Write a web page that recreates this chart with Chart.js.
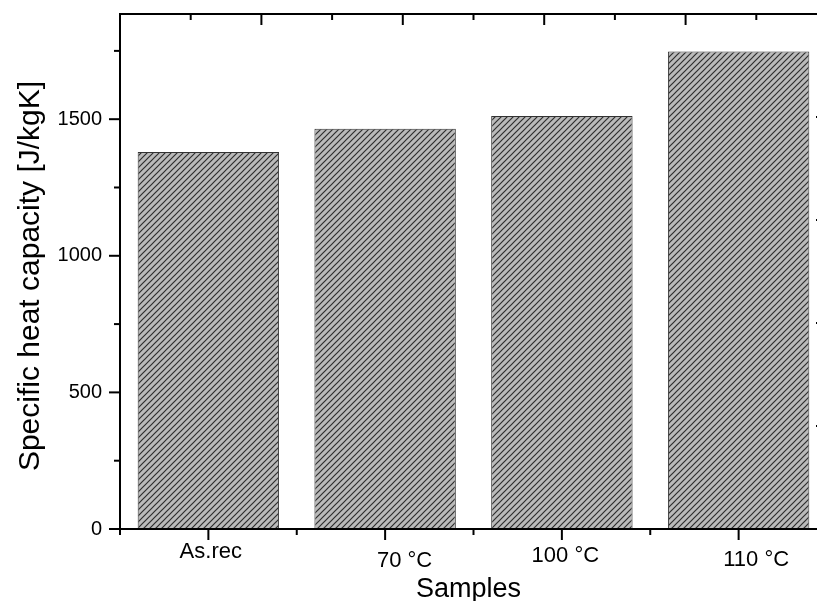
<!DOCTYPE html>
<html>
<head>
<meta charset="utf-8">
<script src="https://cdn.jsdelivr.net/npm/chart.js@4/dist/chart.umd.min.js"></script>
<style>
  html, body { margin: 0; padding: 0; background: #fff; overflow: hidden; }
  #wrap { position: absolute; left: 0; top: 0; width: 830px; height: 601px; }
</style>
</head>
<body>
<div id="wrap"><canvas id="c"></canvas></div>
<script>
// ---- data ----
const categories = ['As.rec', '70 °C', '100 °C', '110 °C'];
const capacity = [1380, 1465, 1512, 1748];
const yTickValues = [0, 500, 1000, 1500];
const yMinorStep = 250;
const yMax = 1885;
const xTitle = 'Samples';
const yTitle = 'Specific heat capacity [J/kgK]';

// ---- hatch pattern ----
function makeHatch() {
  const s = 6;
  const c = document.createElement('canvas');
  c.width = s; c.height = s;
  const g = c.getContext('2d');
  g.fillStyle = '#bababa';
  g.fillRect(0, 0, s, s);
  g.strokeStyle = '#2e2e2e';
  g.lineWidth = 1.2;
  g.beginPath();
  g.moveTo(-1, s + 1); g.lineTo(s + 1, -1);
  g.moveTo(-1, 1); g.lineTo(1, -1);
  g.moveTo(s - 1, s + 1); g.lineTo(s + 1, s - 1);
  g.stroke();
  return g.createPattern(c, 'repeat');
}

const FONT = '"Liberation Sans", Arial, sans-serif';
const labelShift = [[2.4, 29.3], [19.4, 37.7], [3.5, 33], [17.5, 36.7]];

const framePlugin = {
  id: 'frame',
  afterDraw(chart) {
    const { ctx, chartArea: a, scales: { x, y } } = chart;
    ctx.save();
    ctx.strokeStyle = '#000';
    ctx.fillStyle = '#000';
    ctx.lineWidth = 2;
    const line = (x1, y1, x2, y2) => { ctx.beginPath(); ctx.moveTo(x1, y1); ctx.lineTo(x2, y2); ctx.stroke(); };
    // frame
    ctx.strokeRect(a.left, a.top, a.right - a.left, a.bottom - a.top);
    // y ticks
    for (let v = 0; v <= yMax; v += yMinorStep) {
      const py = y.getPixelForValue(v);
      const major = yTickValues.includes(v);
      line(a.left - (major ? 11 : 6), py, a.left, py);
    }
    ctx.font = '20px ' + FONT;
    ctx.textAlign = 'right';
    ctx.textBaseline = 'middle';
    yTickValues.forEach(v => ctx.fillText(String(v), a.left - 18, y.getPixelForValue(v)));
    // x ticks
    const centers = categories.map((c, i) => x.getPixelForValue(i));
    centers.forEach(px => line(px, a.bottom, px, a.bottom + 11));
    const bounds = [a.left];
    for (let i = 1; i < centers.length; i++) bounds.push((centers[i - 1] + centers[i]) / 2);
    bounds.push(a.right);
    bounds.forEach(px => line(px, a.bottom, px, a.bottom + 6));
    // top ticks (inward)
    for (let k = 1; k < 10; k++) {
      const px = a.left + k * (a.right - a.left) / 10;
      line(px, a.top, px, a.top + (k % 2 === 0 ? 11 : 6));
    }
    // right ticks (inward)
    for (let k = 1; k < 10; k++) {
      const py = a.top + k * (a.bottom - a.top) / 10;
      line(a.right - (k % 2 === 0 ? 11 : 6), py, a.right, py);
    }
    // x labels
    ctx.font = '22px ' + FONT;
    ctx.textAlign = 'center';
    ctx.textBaseline = 'alphabetic';
    categories.forEach((c, i) => {
      ctx.fillText(c, centers[i] + labelShift[i][0], a.bottom + labelShift[i][1]);
    });
    // titles
    ctx.font = '27px ' + FONT;
    ctx.fillText(xTitle, (a.left + a.right) / 2 - 5, a.bottom + 67.7);
    ctx.font = '30px ' + FONT;
    ctx.translate(39, 276);
    ctx.rotate(-Math.PI / 2);
    ctx.fillText(yTitle, 0, 0);
    ctx.restore();
  }
};

new Chart(document.getElementById('c'), {
  type: 'bar',
  data: {
    labels: categories,
    datasets: [{
      data: capacity,
      backgroundColor: makeHatch(),
      borderColor: '#333',
      borderWidth: 1,
      borderSkipped: false,
      barPercentage: 0.8,
      categoryPercentage: 1.0
    }]
  },
  options: {
    responsive: true,
    maintainAspectRatio: false,
    devicePixelRatio: 1,
    animation: false,
    layout: { padding: { left: 0, top: 14, right: 3, bottom: 0 } },
    plugins: { legend: { display: false }, tooltip: { enabled: false } },
    scales: {
      x: {
        offset: true,
        grid: { display: false },
        border: { display: false },
        ticks: { display: false },
        afterFit: s => { s.height = 72; }
      },
      y: {
        min: 0, max: yMax,
        grid: { display: false },
        border: { display: false },
        ticks: { display: false },
        afterFit: s => { s.width = 120; }
      }
    }
  },
  plugins: [framePlugin]
});
</script>
</body>
</html>
